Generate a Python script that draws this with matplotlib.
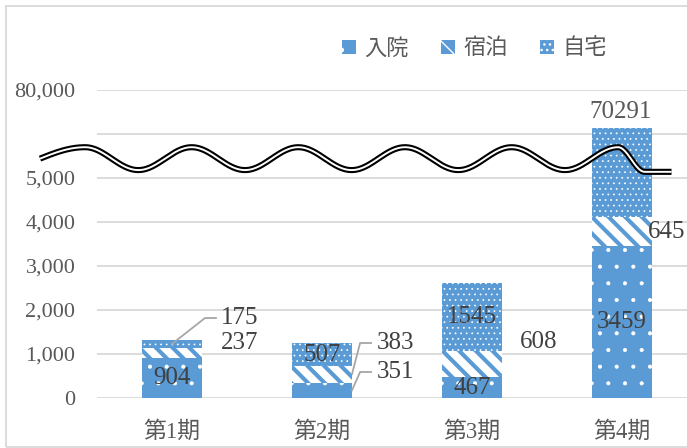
import numpy as np
import matplotlib
matplotlib.use("Agg")
import matplotlib.pyplot as plt
from matplotlib.patches import Rectangle

# 数字は明朝風のセリフ体、漢字は CJK フォントで補う
plt.rcParams["font.family"] = ["Liberation Serif", "Noto Sans CJK JP"]
plt.rcParams["hatch.linewidth"] = 1.0

periods = ["第1期", "第2期", "第3期", "第4期"]
series_names = ["入院", "宿泊", "自宅"]
inpatient = [904, 351, 467, 3459]
hotel = [237, 383, 608, 645]
home = [175, 507, 1545, 70291]

# 縦軸の省略：5,000 より上は上部の帯に押し込む
BREAK_DATA = [0, 5000, 75000, 80000]
BREAK_AXIS = [0, 5000, 6150, 7000]
ytick_labels = ["0", "1,000", "2,000", "3,000", "4,000", "5,000", "", "80,000"]


def squash(v):
    return np.interp(v, BREAK_DATA, BREAK_AXIS)


BLUE = "#5B9BD5"
GRID = "#D9D9D9"
TEXT_GRAY = "#595959"
LABEL_DARK = "#404040"

fig = plt.figure(figsize=(6.87, 4.48), dpi=100)
ax = fig.add_axes([97 / 687, 50 / 448, 600 / 687, 308 / 448])

x = np.arange(len(periods))
hatch_styles = [(".", 0.5), ("\\\\", 5.5), ("...", 0.5)]
all_series = [inpatient, hotel, home]

bottoms = np.zeros(len(periods))
seg_lo, seg_hi = [], []
handles = []
for name, vals, (hatch, hlw) in zip(series_names, all_series, hatch_styles):
    tops = bottoms + np.array(vals)
    y0, y1 = squash(bottoms), squash(tops)
    with plt.rc_context({"hatch.linewidth": hlw}):
        bars = ax.bar(x, y1 - y0, bottom=y0, width=0.4, color=BLUE,
                      edgecolor="white", linewidth=0, hatch=hatch,
                      label=name, zorder=3)
        for p in bars:
            if hasattr(p, "set_hatch_linewidth"):
                p.set_hatch_linewidth(hlw)
    handles.append(bars)
    seg_lo.append(y0)
    seg_hi.append(y1)
    bottoms = tops

# 棒の中に書く値
inside = [(0, 0), (0, 2), (0, 3), (2, 1), (2, 2)]
for s, i in inside:
    ym = (seg_lo[s][i] + seg_hi[s][i]) / 2
    ax.text(x[i], ym, f"{all_series[s][i]}", ha="center", va="center",
            fontsize=18, color=LABEL_DARK, zorder=6)

# 棒の外に書く値（位置, 引き出し線の有無）
outside = [
    (1, 0, 0.453, 1250, False),
    (2, 0, 0.453, 1818, True),
    (1, 1, 0.487, 1250, True),
    (0, 1, 0.487, 591, True),
    (1, 2, 0.447, 1273, False),
    (1, 3, 0.30, 3773, False),
]
for s, i, dx, ly, leader in outside:
    ax.text(x[i] + dx, ly, f"{all_series[s][i]}", ha="center", va="center",
            fontsize=18, color=LABEL_DARK, zorder=6, clip_on=False)
    if leader:
        ym = (seg_lo[s][i] + seg_hi[s][i]) / 2
        x_start = x[i] if i == 0 else x[i] + 0.2
        ax.plot([x_start, x[i] + dx - 0.233, x[i] + dx - 0.16],
                [ym, ly, ly], color="#A6A6A6", lw=1.3, zorder=5)

ax.text(x[3] - 0.01, 6500, f"{home[3]}", ha="center", va="center",
        fontsize=18, color=TEXT_GRAY, zorder=6)

# 省略を示す波線（二重線）
wx = np.linspace(-0.88, 3.33, 600)
period = 0.711
center, amp = 5440, 260
wy = center + amp * np.cos(2 * np.pi * (wx + 0.58) / period)
# 左端は緩やかに立ち上げる
head = wx < -0.58
wy[head] = center + amp * np.cos(np.pi * (wx[head] + 0.58) / 0.6)
last_peak = -0.58 + 5 * period
drop = (wx > last_peak) & (wx <= last_peak + 0.175)
wy[drop] = center + amp * np.cos(np.pi * (wx[drop] - last_peak) / 0.175) - 40 * (wx[drop] - last_peak) / 0.175
wy[wx > last_peak + 0.175] = center - amp - 40
ax.plot(wx, wy, color="black", lw=4.4, zorder=7, clip_on=False,
        solid_capstyle="butt")
ax.plot(wx, wy, color="white", lw=1.4, zorder=8, clip_on=False,
        solid_capstyle="butt")

ax.set_xlim(-0.5, 3.5)
ax.set_ylim(0, 7000)
ax.set_yticks(np.arange(0, 7001, 1000))
ax.set_yticklabels(ytick_labels)
ax.set_xticks(x)
ax.set_xticklabels(periods)
ax.tick_params(axis="y", length=0, pad=15.5, labelsize=16, labelcolor=TEXT_GRAY)
ax.tick_params(axis="x", length=0, pad=17, labelsize=16.5, labelcolor=TEXT_GRAY)
ax.yaxis.grid(True, color=GRID, lw=1.3, zorder=0)
ax.set_axisbelow(True)
for sp in ax.spines.values():
    sp.set_visible(False)

fig.legend(handles=handles, labels=series_names, loc="center",
           bbox_to_anchor=(0.691, 0.893), ncol=3, frameon=False,
           handlelength=0.6, handleheight=0.6, handletextpad=0.4,
           columnspacing=1.45, labelcolor=TEXT_GRAY,
           prop={"family": ["Noto Sans CJK JP"], "size": 16})

# グラフ全体の枠
fig.add_artist(Rectangle((6 / 687, 1.5 / 448), 1.0, 1 - 7.5 / 448,
                         transform=fig.transFigure, fill=False,
                         edgecolor=GRID, lw=1.3))

fig.savefig("out.png", dpi=100)
